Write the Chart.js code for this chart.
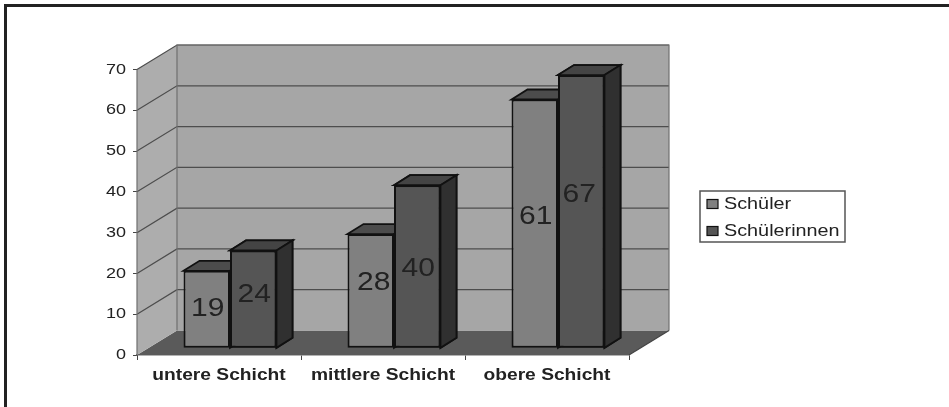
<!DOCTYPE html>
<html>
<head>
<meta charset="utf-8">
<title>Schüler und Schülerinnen nach Schicht</title>
<script src="https://cdn.jsdelivr.net/npm/chart.js@4/dist/chart.umd.min.js"></script>
<style>
html, body { margin: 0; padding: 0; background: #fff; }
#wrap { position: relative; width: 949px; height: 407px; overflow: hidden; }
#frame { position: absolute; left: 4px; top: 4px; right: -6px; bottom: -6px; border: 3px solid #222; }
#chart { position: absolute; left: 0; top: 0; filter: blur(0.7px); }
</style>
</head>
<body>
<div id="wrap"><canvas id="chart" width="949" height="407"></canvas><div id="frame"></div></div>
<script>
// Data
var categories = ['untere Schicht', 'mittlere Schicht', 'obere Schicht'];
var schueler = [19, 28, 61];
var schuelerinnen = [24, 40, 67];
var seriesNames = ['Schüler', 'Schülerinnen'];
var yTicks = [0, 10, 20, 30, 40, 50, 60, 70];

// 3D look: how far the back wall and the bars are pushed back
var wallDepth = [40, 24.5];
var barShift = [11, 6.7];
var barDepth = [16, 10];
var textStretch = 1.2;
var faces = [
    {front: '#808080', top: '#4c4c4c', side: '#555555'},
    {front: '#555555', top: '#444444', side: '#303030'}
];
// the value labels don't sit exactly mid-bar in the original [dx, dy]
var labelNudge = [
    [[1, 0], [3, -8], [1, -7]],
    [[1, -4], [1, 2.5], [-2, -16]]
];

function poly(ctx, pts, fill, stroke) {
    ctx.beginPath();
    ctx.moveTo(pts[0][0], pts[0][1]);
    for (var i = 1; i < pts.length; i++)
        ctx.lineTo(pts[i][0], pts[i][1]);
    ctx.closePath();
    ctx.fillStyle = fill;
    ctx.fill();
    if (stroke) {
        ctx.strokeStyle = stroke;
        ctx.lineWidth = 1.8;
        ctx.stroke();
    }
}

// The picture is a stretched scan, so all text gets drawn wider than the font
function stretchedFillText(ctx) {
    var orig = ctx.fillText;
    ctx.fillText = function (text, x, y) {
        ctx.save();
        ctx.translate(x, y);
        ctx.scale(textStretch, 1);
        orig.call(ctx, text, 0, 0);
        ctx.restore();
    };
}

function drawTopAndSide(chart, index) {
    var ctx = chart.ctx, dx = barDepth[0], dy = barDepth[1];
    var f = faces[index];
    chart.getDatasetMeta(index).data.forEach(function (bar) {
        var l = bar.x - bar.width / 2, r = bar.x + bar.width / 2;
        poly(ctx, [[l, bar.y], [l + dx, bar.y - dy], [r + dx, bar.y - dy], [r, bar.y]], f.top, '#111');
        poly(ctx, [[r, bar.y], [r + dx, bar.y - dy], [r + dx, bar.base - dy], [r, bar.base]], f.side, '#111');
    });
}

var walls3d = {
    id: 'walls3d',
    beforeDatasetsDraw: function (chart) {
        var ctx = chart.ctx, a = chart.chartArea, dx = wallDepth[0], dy = wallDepth[1];
        var y = chart.scales.y;
        ctx.save();
        // floor
        poly(ctx, [[a.left, a.bottom], [a.left + dx, a.bottom - dy], [a.right + dx, a.bottom - dy], [a.right, a.bottom]], '#5a5a5a');
        // side wall and back wall
        poly(ctx, [[a.left, a.bottom], [a.left, a.top], [a.left + dx, a.top - dy], [a.left + dx, a.bottom - dy]], '#adadad');
        ctx.fillStyle = '#a6a6a6';
        ctx.fillRect(a.left + dx, a.top - dy, a.right - a.left, a.bottom - a.top);
        // grid lines
        ctx.strokeStyle = '#4d4d4d';
        ctx.lineWidth = 1.2;
        yTicks.forEach(function (v) {
            if (v === 0) return;
            var py = y.getPixelForValue(v);
            ctx.beginPath();
            ctx.moveTo(a.left, py);
            ctx.lineTo(a.left + dx, py - dy);
            ctx.lineTo(a.right + dx, py - dy);
            ctx.stroke();
        });
        ctx.strokeStyle = '#707070';
        ctx.beginPath();
        ctx.moveTo(a.left, a.bottom);
        ctx.lineTo(a.left, a.top);
        ctx.moveTo(a.left + dx, a.bottom - dy);
        ctx.lineTo(a.left + dx, a.top - dy);
        ctx.lineTo(a.right + dx, a.top - dy);
        ctx.lineTo(a.right + dx, a.bottom - dy);
        ctx.stroke();
        ctx.strokeStyle = '#444444';
        ctx.beginPath();
        ctx.moveTo(a.right, a.bottom);
        ctx.lineTo(a.right + dx, a.bottom - dy);
        ctx.stroke();
        ctx.restore();
    },
    // bars sit a bit behind the front of the floor
    beforeDatasetDraw: function (chart, args) {
        chart.ctx.save();
        chart.ctx.translate(barShift[0], -barShift[1]);
        drawTopAndSide(chart, args.index);
    },
    afterDatasetDraw: function (chart) {
        chart.ctx.restore();
    },
    afterDatasetsDraw: function (chart) {
        var ctx = chart.ctx;
        ctx.save();
        ctx.translate(barShift[0], -barShift[1]);
        // chart.js paints the first dataset last, the dark bars have to end up in front
        drawTopAndSide(chart, 1);
        chart.getDatasetMeta(1).data.forEach(function (bar) { bar.draw(ctx); });

        ctx.font = '25px "Liberation Sans"';
        ctx.fillStyle = '#222';
        ctx.textAlign = 'center';
        ctx.textBaseline = 'middle';
        chart.data.datasets.forEach(function (ds, i) {
            chart.getDatasetMeta(i).data.forEach(function (bar, j) {
                var n = labelNudge[i][j];
                ctx.fillText(ds.data[j], bar.x + n[0], (bar.y + bar.base) / 2 + n[1]);
            });
        });
        ctx.restore();
    }
};

var legendBox = {
    id: 'legendBox',
    afterDraw: function (chart) {
        var ctx = chart.ctx;
        ctx.save();
        ctx.strokeStyle = '#555';
        ctx.lineWidth = 1.5;
        ctx.strokeRect(700, 191, 145, 51);
        ctx.font = '16.5px "Liberation Sans"';
        ctx.textBaseline = 'middle';
        ctx.textAlign = 'left';
        chart.data.datasets.forEach(function (ds, i) {
            var y = 204 + i * 27;
            ctx.fillStyle = ds.backgroundColor;
            ctx.fillRect(707, y - 4.5, 11, 9);
            ctx.strokeStyle = '#111';
            ctx.lineWidth = 1.2;
            ctx.strokeRect(707, y - 4.5, 11, 9);
            ctx.fillStyle = '#222';
            ctx.fillText(ds.label, 724, y);
        });
        ctx.restore();
    }
};

var ctx = document.getElementById('chart').getContext('2d');
stretchedFillText(ctx);

new Chart(ctx, {
    type: 'bar',
    data: {
        labels: categories,
        datasets: [
            {label: seriesNames[0], data: schueler, backgroundColor: faces[0].front, borderColor: '#111', borderWidth: 2, borderSkipped: false},
            {label: seriesNames[1], data: schuelerinnen, backgroundColor: faces[1].front, borderColor: '#111', borderWidth: 2, borderSkipped: false}
        ]
    },
    options: {
        responsive: false,
        animation: false,
        layout: {padding: {top: 69.5, right: 320, left: 0, bottom: 0}},
        plugins: {legend: {display: false}, title: {display: false}, tooltip: {enabled: false}},
        datasets: {bar: {categoryPercentage: 0.567, barPercentage: 1}},
        scales: {
            x: {
                afterFit: function (s) { s.height = 52; },
                grid: {drawOnChartArea: false, color: '#444', tickLength: 5},
                border: {color: '#666', width: 1.5},
                ticks: {color: '#222', font: {family: '"Liberation Sans"', size: 16, weight: 'bold'}, padding: 6, maxRotation: 0}
            },
            y: {
                min: 0,
                max: 70,
                afterFit: function (s) { s.width = 137; },
                afterBuildTicks: function (s) { s.ticks = yTicks.map(function (v) { return {value: v}; }); },
                grid: {drawOnChartArea: false, color: '#444', tickLength: 4},
                border: {color: '#555', width: 1},
                ticks: {color: '#222', font: {family: '"Liberation Sans"', size: 15}, padding: 7}
            }
        }
    },
    plugins: [walls3d, legendBox]
});
</script>
</body>
</html>
